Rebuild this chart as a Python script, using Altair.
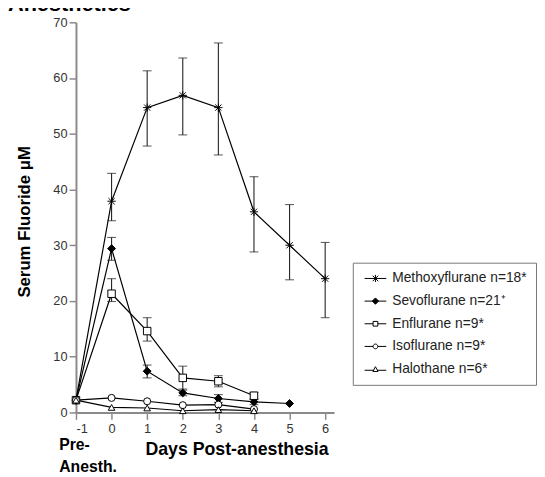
import altair as alt
import pandas as pd

# ---------------- data ----------------
series = ["Methoxyflurane n=18*", "Sevoflurane n=21\u207a", "Enflurane n=9*",
          "Isoflurane n=9*", "Halothane n=6*"]

meth_days = [-1, 0, 1, 2, 3, 4, 5, 6]
meth_val = [2.2, 37.9, 54.7, 56.9, 54.7, 36.0, 30.0, 24.0]
meth_lo = [None, 34.4, 47.8, 49.8, 46.2, 28.8, 23.8, 17.0]
meth_hi = [None, 42.9, 61.3, 63.6, 66.3, 42.3, 37.3, 30.5]

sevo_days = [-1, 0, 1, 2, 3, 4, 5]
sevo_val = [2.2, 29.4, 7.4, 3.5, 2.5, 1.9, 1.6]
sevo_lo = [None, 27.3, 6.2, 3.0, 1.8, 1.4, None]
sevo_hi = [None, 31.4, 8.5, 4.0, 3.2, 2.4, None]

enf_days = [-1, 0, 1, 2, 3, 4]
enf_val = [2.2, 21.3, 14.6, 6.2, 5.6, 3.0]
enf_lo = [None, 19.9, 12.8, 4.2, 4.6, 2.3]
enf_hi = [None, 24.0, 17.0, 8.3, 6.6, 3.6]

iso_days = [-1, 0, 1, 2, 3, 4]
iso_val = [2.2, 2.6, 2.0, 1.3, 1.4, 0.6]

halo_days = [-1, 0, 1, 2, 3, 4]
halo_val = [2.2, 0.9, 0.8, 0.3, 0.5, 0.3]

x_ticks = [-1, 0, 1, 2, 3, 4, 5, 6]
y_ticks = [0, 10, 20, 30, 40, 50, 60, 70]

# ---------------- tables ----------------
groups = [
    (series[0], meth_days, meth_val, meth_lo, meth_hi),
    (series[1], sevo_days, sevo_val, sevo_lo, sevo_hi),
    (series[2], enf_days, enf_val, enf_lo, enf_hi),
    (series[3], iso_days, iso_val, [None] * len(iso_days), [None] * len(iso_days)),
    (series[4], halo_days, halo_val, [None] * len(halo_days), [None] * len(halo_days)),
]
rows, err_rows, cap_rows = [], [], []
for name, d, v, lo, hi in groups:
    for i in range(len(d)):
        rows.append({"series": name, "day": d[i], "value": v[i]})
        if lo[i] is not None:
            err_rows.append({"series": name, "day": d[i], "lo": lo[i], "hi": hi[i]})
            cap_rows.append({"series": name, "day": d[i], "value": lo[i]})
            cap_rows.append({"series": name, "day": d[i], "value": hi[i]})
df = pd.DataFrame(rows)
err = pd.DataFrame(err_rows)
caps = pd.DataFrame(cap_rows)
ann = pd.DataFrame([{"day": -1, "value": 0, "t": ["Pre-", "Anesth."]}])
title_df = pd.DataFrame([{"day": -1, "value": 70, "t": "Anesthetics"}])

point_shapes = [
    "M-1,0L1,0M0,-1L0,1M-0.75,-0.75L0.75,0.75M-0.75,0.75L0.75,-0.75",
    "diamond", "square", "circle", "triangle-up",
]
point_fills = ["white", "black", "white", "white", "white"]
point_strokes = ["black"] * 5
point_sizes = [70, 45, 40, 40, 40]

legend_shapes = [
    "M-2.75,0L2.75,0M0,-0.9L0,0.9M-0.7,-0.7L0.7,0.7M-0.7,0.7L0.7,-0.7",
    "M-2.75,0L2.75,0M-0.8,0L0,-0.8L0.8,0L0,0.8Z",
    "M-2.75,0L-0.6,0M0.6,0L2.75,0M-0.6,-0.6L0.6,-0.6L0.6,0.6L-0.6,0.6Z",
    "M-2.75,0L-0.6,0M0.6,0L2.75,0M-0.6,0A0.6,0.6 0 1,0 0.6,0A0.6,0.6 0 1,0 -0.6,0Z",
    "M-2.75,0.3L-0.45,0.3M0.45,0.3L2.75,0.3M0,-0.6L0.65,0.6L-0.65,0.6Z",
]

FONT = "Liberation Sans"

xscale = alt.Scale(domain=[-1, 6.25], nice=False, zero=False)
yscale = alt.Scale(domain=[0, 70], nice=False)


def X(field="day"):
    return alt.X(f"{field}:Q", scale=xscale,
                 axis=alt.Axis(values=x_ticks, labelExpr="'' + datum.value",
                               title="Days Post-anesthesia",
                               titleX=163, titleY=38, titleBaseline="middle",
                               titleFontSize=18, labelPadding=3))


def Y(field="value"):
    return alt.Y(f"{field}:Q", scale=yscale,
                 axis=alt.Axis(values=y_ticks, title="Serum Fluoride \u03bcM",
                               titleX=-52, titleY=202, titleBaseline="middle",
                               titleAlign="center", titleFontSize=17, labelPadding=2))


base = alt.Chart(df)

lines = base.mark_line(color="black", strokeWidth=1.2).encode(
    x=X(), y=Y(), detail="series:N", order="day:Q")

rules = alt.Chart(err).mark_rule(color="#222", strokeWidth=1.1).encode(
    x=X(), y=Y("lo"), y2="hi:Q")

capmarks = alt.Chart(caps).mark_tick(color="#222", orient="horizontal",
                                     size=9, thickness=1.1).encode(x=X(), y=Y())

points = base.mark_point(stroke="black", strokeWidth=1, opacity=1).encode(
    x=X(), y=Y(),
    shape=alt.Shape("series:N", scale=alt.Scale(domain=series, range=point_shapes), legend=None),
    fill=alt.Fill("series:N", scale=alt.Scale(domain=series, range=point_fills), legend=None),
    size=alt.Size("series:N", scale=alt.Scale(domain=series, range=point_sizes), legend=None),
)

leg = alt.Legend(title=None, orient="none", legendX=281, legendY=244,
                 strokeColor="#777", fillColor="white", padding=9,
                 labelFont=FONT, labelFontSize=14, labelColor="#222",
                 symbolSize=64, symbolOffset=7, labelOffset=10, rowPadding=9,
                 symbolStrokeColor="black", symbolStrokeWidth=1, symbolOpacity=1)

legend_layer = base.transform_calculate(legend="datum.series").transform_filter(
    "false").mark_point(stroke="black").encode(
    x=X(), y=Y(),
    shape=alt.Shape("legend:N", scale=alt.Scale(domain=series, range=legend_shapes), legend=leg),
    fill=alt.Fill("legend:N", scale=alt.Scale(domain=series, range=point_fills), legend=leg),
    stroke=alt.Stroke("legend:N", scale=alt.Scale(domain=series, range=point_strokes), legend=leg),
)

annot = alt.Chart(ann).mark_text(align="left", baseline="middle", dx=-17, dy=33,
                                 lineHeight=22, font=FONT, fontWeight="bold",
                                 fontSize=16, color="black").encode(
    x=X(), y=Y(), text="t")

title_mark = alt.Chart(title_df).mark_text(align="left", baseline="alphabetic",
                                           dx=-69, dy=-12, font=FONT, fontWeight="bold",
                                           fontSize=22, color="black").encode(
    x=X(), y=Y(), text="t")

chart = alt.layer(lines, rules, capmarks, points, legend_layer, annot, title_mark).resolve_scale(
    shape="independent", fill="independent", stroke="independent"
).properties(
    width=262, height=396,
    autosize=alt.AutoSizeParams(type="none"),
    padding={"left": 69, "top": 11, "right": 206, "bottom": 62},
).configure_view(stroke=None).configure_axis(
    grid=False, domainColor="#8a8a8a", domainWidth=2, tickColor="#8a8a8a",
    tickWidth=1.5, tickSize=7, labelFont=FONT, labelFontSize=13, labelColor="#333",
    titleFont=FONT, titleFontWeight="bold", titleColor="black")

chart.save("out.html", embed_options={"renderer": "svg", "actions": False})
